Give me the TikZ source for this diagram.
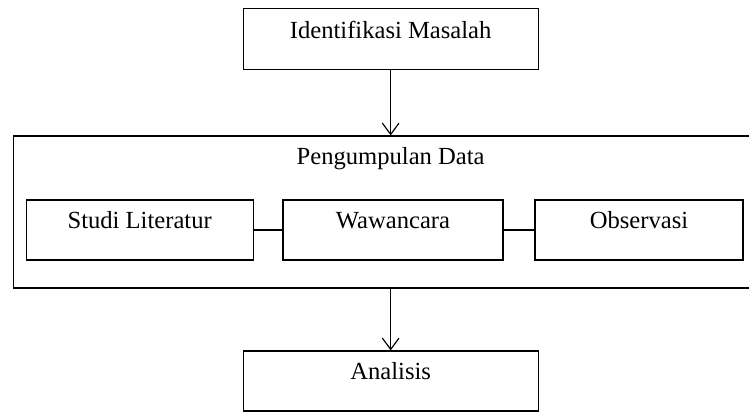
\documentclass[tikz,border=0pt]{standalone}
\usepackage{fontspec}
\setmainfont{Liberation Serif}
\usetikzlibrary{arrows.meta}

\tikzset{
  kotak/.style={draw, line width=1pt, inner sep=0pt, text height=0.87cm, text depth=0.93cm},
  panah/.style={line width=1pt, -{Straight Barb[length=0.34cm,width=0.5cm,line width=1pt]}}
}

\begin{document}
\begin{tikzpicture}[font=\fontsize{21}{25}\selectfont]
\clip (0,0) rectangle (22.47,12.36);
\node[kotak, minimum width=8.85cm, text height=0.9cm] (identifikasi) at (11.72,11.2) {Identifikasi Masalah};
\node[draw, line width=1pt, inner sep=0pt, minimum width=22.41cm, minimum height=4.56cm] (data) at (11.6,6) {};
\node[anchor=base] (judul) at (11.72,7.41) {Pengumpulan Data};
\node[kotak, minimum width=6.81cm] (studi) at (4.19,5.46) {Studi Literatur};
\node[kotak, minimum width=6.6cm] (wawancara) at (11.79,5.46) {Wawancara};
\node[kotak, minimum width=6.24cm] (observasi) at (19.17,5.46) {Observasi};
\node[kotak, minimum width=8.85cm] (analisis) at (11.72,0.93) {Analisis};
\draw[line width=1pt] (studi) -- (wawancara);
\draw[line width=1pt] (wawancara) -- (observasi);
\draw[panah] (identifikasi) -- (identifikasi |- data.north);
\draw[panah] (analisis |- data.south) -- (analisis);
\end{tikzpicture}
\end{document}
